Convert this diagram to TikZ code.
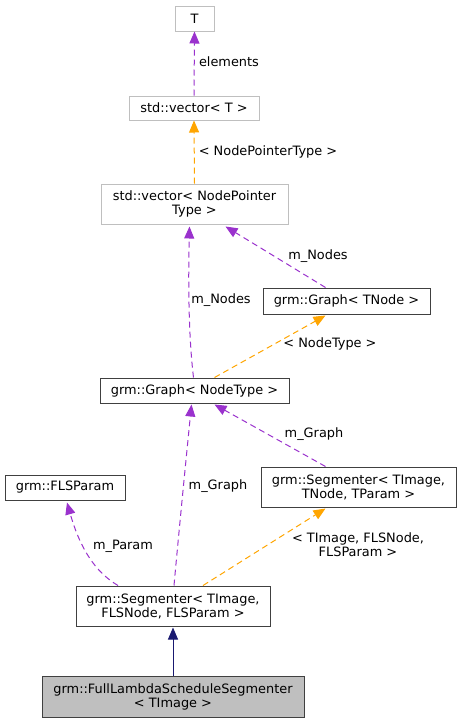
\documentclass[tikz,border=0pt]{standalone}
\usepackage{fontspec}
\setmainfont{DejaVu Sans}
\usetikzlibrary{arrows.meta}
\definecolor{edgepurple}{HTML}{9A32CD}
\definecolor{edgeorange}{HTML}{FFA500}
\definecolor{edgenavy}{HTML}{191970}
\definecolor{boxborder}{HTML}{404040}
\definecolor{extborder}{HTML}{BFBFBF}
\definecolor{curfill}{HTML}{BFBFBF}
\tikzset{
  box/.style={draw=boxborder, line width=1pt, fill=white, inner sep=0pt, align=center,
    font=\fontsize{12.9}{14}\selectfont},
  extbox/.style={box, draw=extborder},
  curbox/.style={box, fill=curfill},
  usage/.style={draw=edgepurple, line width=1pt, dash pattern=on 6pt off 4pt,
    -{Triangle[length=12pt,width=10pt,fill=edgepurple]}},
  tmpl/.style={draw=edgeorange, line width=1pt, dash pattern=on 6pt off 4pt,
    -{Triangle[length=12pt,width=10pt,fill=edgeorange]}},
  inherit/.style={draw=edgenavy, line width=1pt,
    -{Triangle[length=12pt,width=10pt,fill=edgenavy]}},
  lbl/.style={inner sep=0pt, align=center, font=\fontsize{12.9}{14}\selectfont}
}
\begin{document}
\begin{tikzpicture}[x=1pt,y=-1pt]
\useasboundingbox (0,0) rectangle (461,723);
% nodes
\node[extbox, minimum width=39pt, minimum height=25pt] (T) at (194.5,18.5) {T};
\node[extbox, minimum width=130pt, minimum height=24pt] (vecT) at (194,108) {std::vector< T >};
\node[extbox, minimum width=187pt, minimum height=40pt] (vecNPT) at (194.5,204) {std::vector< NodePointer\\Type >};
\node[box, minimum width=167pt, minimum height=26pt] (gTNode) at (346.5,301) {grm::Graph< TNode >};
\node[box, minimum width=189pt, minimum height=25pt] (gNT) at (194.5,390.5) {grm::Graph< NodeType >};
\node[box, minimum width=195pt, minimum height=40pt] (segT) at (358.5,487) {grm::Segmenter< TImage,\\TNode, TParam >};
\node[box, minimum width=120pt, minimum height=25pt] (fls) at (65,487.5) {grm::FLSParam};
\node[box, minimum width=194pt, minimum height=40pt] (segF) at (173,606) {grm::Segmenter< TImage,\\FLSNode, FLSParam >};
\node[curbox, minimum width=262pt, minimum height=41pt] (full) at (173,696.5) {grm::FullLambdaScheduleSegmenter\\< TImage >};
% edges
\draw[usage] (vecT.north) -- (T.south);
\node[lbl] (l1) at (229,62) {elements};
\draw[tmpl] (vecNPT.north) -- (vecT.south);
\node[lbl] (l2) at (268,152) {< NodePointerType >};
\draw[usage] ([xshift=-21pt]gTNode.north) -- ([xshift=31pt,yshift=-2pt]vecNPT.south);
\node[lbl] (l3) at (318,256) {m\_Nodes};
\draw[usage] ([xshift=-1pt]gNT.north) .. controls (189,340) and (188,290) .. ([xshift=-5pt,yshift=-2pt]vecNPT.south);
\node[lbl] (l4) at (221,300) {m\_Nodes};
\draw[tmpl] ([xshift=20pt]gNT.north) -- ([xshift=-21pt,yshift=-1pt]gTNode.south);
\node[lbl] (l5) at (330,344) {< NodeType >};
\draw[usage] ([xshift=-33pt]segT.north) -- ([xshift=20pt,yshift=-1pt]gNT.south);
\node[lbl] (l6) at (314,434) {m\_Graph};
\draw[usage] ([xshift=1pt]segF.north) .. controls (180,520) and (186,460) .. ([xshift=-3pt,yshift=-1pt]gNT.south);
\node[lbl] (l7) at (218,486) {m\_Graph};
\draw[usage] ([xshift=-55pt]segF.north) .. controls (95,572) and (80,548) .. ([xshift=2pt,yshift=-2pt]fls.south);
\node[lbl] (l8) at (123,546) {m\_Param};
\draw[tmpl] ([xshift=30pt]segF.north) -- ([xshift=-33pt,yshift=-1pt]segT.south);
\node[lbl] (l9) at (358,545) {< TImage, FLSNode,\\FLSParam >};
\draw[inherit] (full.north) -- ([yshift=-1pt]segF.south);
\end{tikzpicture}
\end{document}
